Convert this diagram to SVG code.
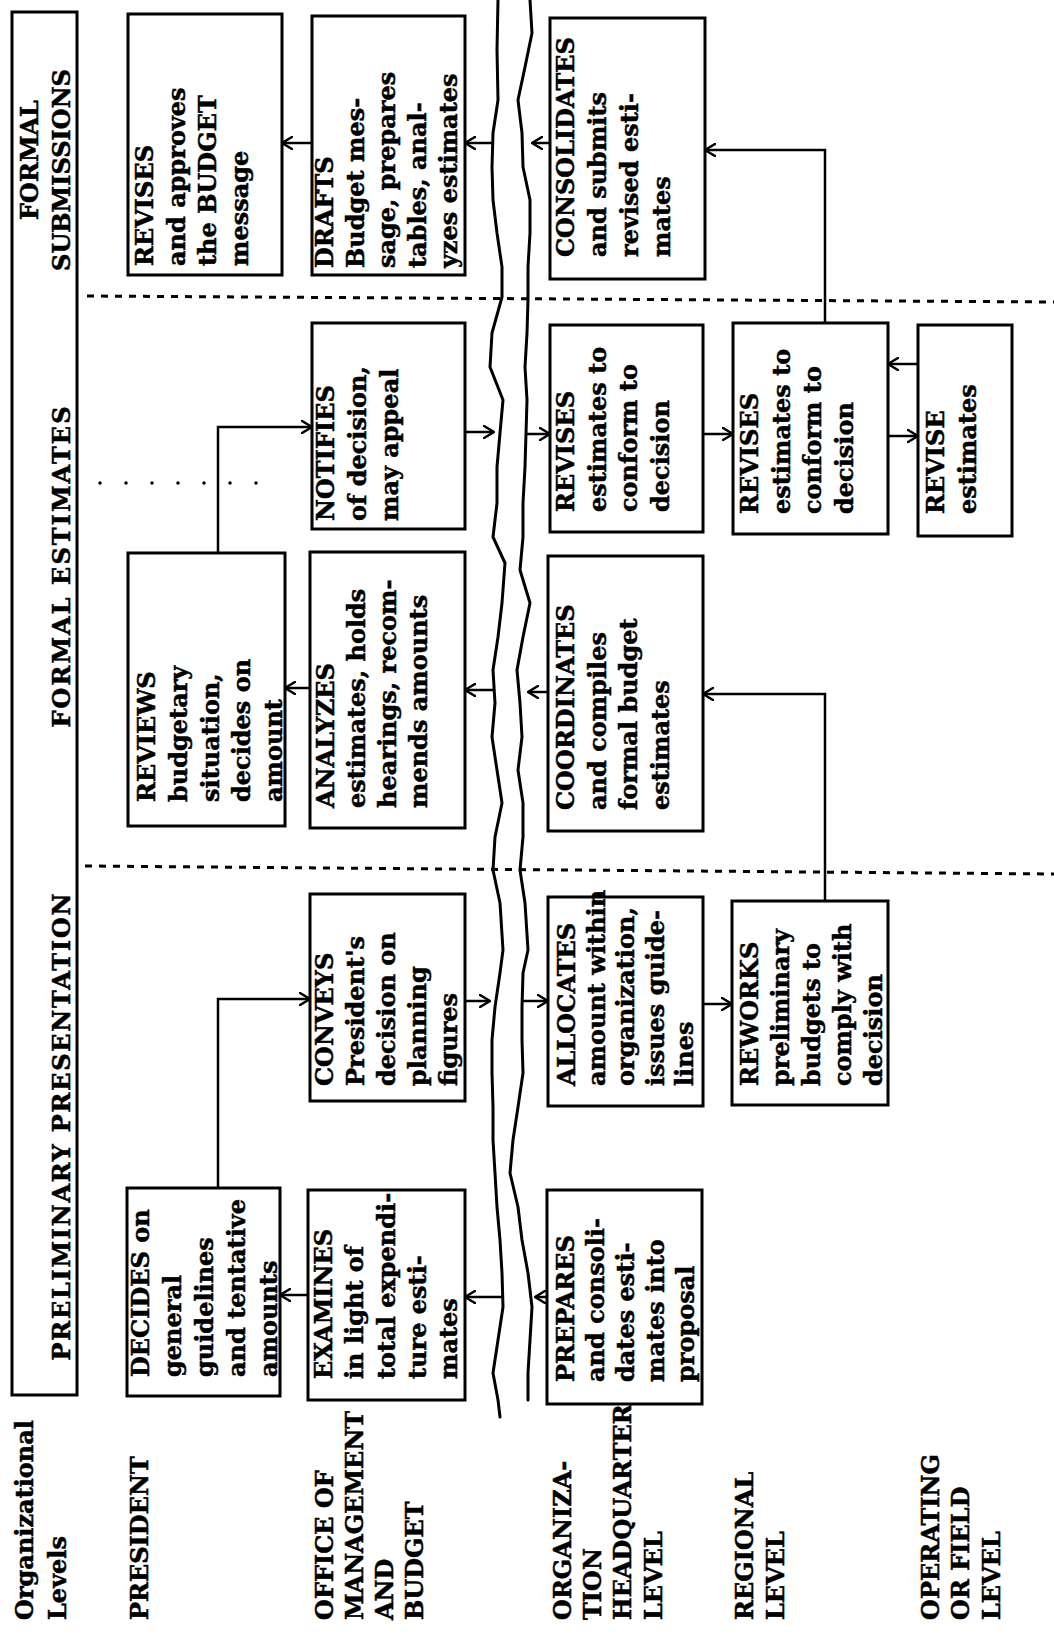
<svg xmlns="http://www.w3.org/2000/svg" width="1054" height="1638" viewBox="0 0 1054 1638">
  <defs>
    <style>
      .box { fill: none; stroke: #000; stroke-width: 3; }
      .t { font-family: "DejaVu Serif", "Liberation Serif", serif; font-weight: bold; font-size: 24px; fill: #000; stroke: #000; stroke-width: 0.5; }
      .conn { fill: none; stroke: #000; stroke-width: 2.5; marker-end: url(#arr); }
      .wave { fill: none; stroke: #000; stroke-width: 3; stroke-linejoin: round; stroke-linecap: round; }
      .dash { stroke: #000; stroke-width: 3; stroke-dasharray: 7 7; }
      .dots { stroke: #000; stroke-width: 3.5; stroke-linecap: round; stroke-dasharray: 0 26; }
    </style>
    <marker id="arr" viewBox="0 0 12 14" refX="11" refY="7" markerWidth="12" markerHeight="14" markerUnits="userSpaceOnUse" orient="auto">
      <path d="M1,1 L11,7 L1,13" fill="none" stroke="#000" stroke-width="2.5" stroke-linecap="round" stroke-linejoin="round"/>
    </marker>
  </defs>
  <rect width="1054" height="1638" fill="#fff"/>

  <!-- phase header band -->
  <g id="header">
    <rect class="box" x="12" y="12" width="65" height="1383"/>
    <text class="t" transform="rotate(-90 38 160)" x="38" y="160" text-anchor="middle">FORMAL</text>
    <text class="t" transform="rotate(-90 70 170)" x="70" y="170" text-anchor="middle">SUBMISSIONS</text>
    <text class="t" transform="rotate(-90 70 567)" x="70" y="567" text-anchor="middle" textLength="321" lengthAdjust="spacing">FORMAL ESTIMATES</text>
    <text class="t" transform="rotate(-90 70 1127)" x="70" y="1127" text-anchor="middle" textLength="467" lengthAdjust="spacing">PRELIMINARY PRESENTATION</text>
  </g>

  <!-- phase dividers and the break between executive and agency levels -->
  <g id="dividers">
    <line class="dash" x1="87" y1="296" x2="1054" y2="302"/>
    <line class="dash" x1="85" y1="866" x2="1054" y2="874"/>
    <line class="dots" x1="100" y1="483" x2="262" y2="483"/>
    <polyline class="wave" points="498,0 497,50 498,100 493,133 492,167 493,200 497,233 502,267 502,297 492,333 490,367 503,400 500,433 497,467 497,503 493,537 505,563 502,603 498,637 493,670 495,703 492,737 497,770 502,803 495,837 493,870 500,903 503,950 500,973 495,1007 492,1040 492,1073 493,1107 493,1140 495,1173 497,1207 500,1240 502,1273 503,1307 498,1340 493,1373 498,1400 500,1417"/>
    <polyline class="wave" points="530,0 532,33 525,67 518,100 522,133 523,167 530,200 530,233 528,267 528,300 527,333 525,367 527,400 525,467 523,503 523,537 520,570 530,603 523,637 517,670 520,703 522,737 518,770 523,803 523,837 520,870 525,903 528,950 523,973 522,1007 522,1040 523,1073 518,1107 513,1140 510,1173 518,1207 522,1240 528,1273 532,1307 530,1340 528,1373 528,1400"/>
  </g>

  <!-- organizational level labels -->
  <g id="levels">
    <text class="t" transform="rotate(-90 33 1620)" x="33" y="1620"><tspan x="33">Organizational</tspan><tspan x="33" dy="33">Levels</tspan></text>
    <text class="t" transform="rotate(-90 148 1620)" x="148" y="1620">PRESIDENT</text>
    <text class="t" transform="rotate(-90 333 1620)" x="333" y="1620"><tspan x="333">OFFICE OF</tspan><tspan x="333" dy="30">MANAGEMENT</tspan><tspan x="333" dy="30">AND</tspan><tspan x="333" dy="30">BUDGET</tspan></text>
    <text class="t" transform="rotate(-90 571 1620)" x="571" y="1620"><tspan x="571">ORGANIZA-</tspan><tspan x="571" dy="30">TION</tspan><tspan x="571" dy="30">HEADQUARTER</tspan><tspan x="571" dy="31">LEVEL</tspan></text>
    <text class="t" transform="rotate(-90 753 1620)" x="753" y="1620"><tspan x="753">REGIONAL</tspan><tspan x="753" dy="31">LEVEL</tspan></text>
    <text class="t" transform="rotate(-90 939 1620)" x="939" y="1620"><tspan x="939">OPERATING</tspan><tspan x="939" dy="30">OR FIELD</tspan><tspan x="939" dy="31">LEVEL</tspan></text>
  </g>

  <!-- President -->
  <g id="pres-revises">
    <rect class="box" x="128" y="14" width="154" height="261"/>
    <text class="t" transform="rotate(-90 153 266)" x="153" y="266"><tspan x="153">REVISES</tspan><tspan x="153" dy="31.5">and approves</tspan><tspan x="153" dy="31.5">the BUDGET</tspan><tspan x="153" dy="31.5">message</tspan></text>
  </g>
  <g id="pres-reviews">
    <rect class="box" x="128" y="553" width="157" height="273"/>
    <text class="t" transform="rotate(-90 155 802)" x="155" y="802"><tspan x="155">REVIEWS</tspan><tspan x="155" dy="31.75">budgetary</tspan><tspan x="155" dy="31.75">situation,</tspan><tspan x="155" dy="31.75">decides on</tspan><tspan x="155" dy="31.75">amount</tspan></text>
  </g>
  <g id="pres-decides">
    <rect class="box" x="127" y="1188" width="153" height="208"/>
    <text class="t" transform="rotate(-90 149 1377)" x="149" y="1377"><tspan x="149">DECIDES on</tspan><tspan x="149" dy="32">general</tspan><tspan x="149" dy="32">guidelines</tspan><tspan x="149" dy="32">and tentative</tspan><tspan x="149" dy="32">amounts</tspan></text>
  </g>

  <!-- Office of Management and Budget -->
  <g id="omb-drafts">
    <rect class="box" x="312" y="16" width="153" height="259"/>
    <text class="t" transform="rotate(-90 333 268)" x="333" y="268"><tspan x="333">DRAFTS</tspan><tspan x="333" dy="31">Budget mes-</tspan><tspan x="333" dy="31">sage, prepares</tspan><tspan x="333" dy="31">tables, anal-</tspan><tspan x="333" dy="31">yzes estimates</tspan></text>
  </g>
  <g id="omb-notifies">
    <rect class="box" x="312" y="323" width="153" height="206"/>
    <text class="t" transform="rotate(-90 334 521)" x="334" y="521"><tspan x="334">NOTIFIES</tspan><tspan x="334" dy="32">of decision,</tspan><tspan x="334" dy="32">may appeal</tspan></text>
  </g>
  <g id="omb-analyzes">
    <rect class="box" x="310" y="552" width="155" height="276"/>
    <text class="t" transform="rotate(-90 334 808)" x="334" y="808"><tspan x="334">ANALYZES</tspan><tspan x="334" dy="31">estimates, holds</tspan><tspan x="334" dy="31">hearings, recom-</tspan><tspan x="334" dy="31">mends amounts</tspan></text>
  </g>
  <g id="omb-conveys">
    <rect class="box" x="310" y="894" width="155" height="207"/>
    <text class="t" transform="rotate(-90 333 1086)" x="333" y="1086"><tspan x="333">CONVEYS</tspan><tspan x="333" dy="31">President's</tspan><tspan x="333" dy="31">decision on</tspan><tspan x="333" dy="31">planning</tspan><tspan x="333" dy="31">figures</tspan></text>
  </g>
  <g id="omb-examines">
    <rect class="box" x="308" y="1190" width="157" height="210"/>
    <text class="t" transform="rotate(-90 332 1379)" x="332" y="1379"><tspan x="332">EXAMINES</tspan><tspan x="332" dy="31.25">in light of</tspan><tspan x="332" dy="31.25">total expendi-</tspan><tspan x="332" dy="31.25">ture esti-</tspan><tspan x="332" dy="31.25">mates</tspan></text>
  </g>

  <!-- Organization headquarter level -->
  <g id="hq-consolidates">
    <rect class="box" x="550" y="18" width="155" height="261"/>
    <text class="t" transform="rotate(-90 574 257)" x="574" y="257"><tspan x="574">CONSOLIDATES</tspan><tspan x="574" dy="32">and submits</tspan><tspan x="574" dy="32">revised esti-</tspan><tspan x="574" dy="32">mates</tspan></text>
  </g>
  <g id="hq-revises">
    <rect class="box" x="550" y="325" width="153" height="207"/>
    <text class="t" transform="rotate(-90 574 512)" x="574" y="512"><tspan x="574">REVISES</tspan><tspan x="574" dy="31.5">estimates to</tspan><tspan x="574" dy="31.5">conform to</tspan><tspan x="574" dy="31.5">decision</tspan></text>
  </g>
  <g id="hq-coordinates">
    <rect class="box" x="548" y="556" width="155" height="275"/>
    <text class="t" transform="rotate(-90 574 810)" x="574" y="810"><tspan x="574">COORDINATES</tspan><tspan x="574" dy="31.5">and compiles</tspan><tspan x="574" dy="31.5">formal budget</tspan><tspan x="574" dy="31.5">estimates</tspan></text>
  </g>
  <g id="hq-allocates">
    <rect class="box" x="548" y="897" width="155" height="209"/>
    <text class="t" transform="rotate(-90 575 1086)" x="575" y="1086"><tspan x="575">ALLOCATES</tspan><tspan x="575" dy="29.5">amount within</tspan><tspan x="575" dy="29.5">organization,</tspan><tspan x="575" dy="29.5">issues guide-</tspan><tspan x="575" dy="29.5">lines</tspan></text>
  </g>
  <g id="hq-prepares">
    <rect class="box" x="547" y="1190" width="155" height="214"/>
    <text class="t" transform="rotate(-90 574 1382)" x="574" y="1382"><tspan x="574">PREPARES</tspan><tspan x="574" dy="30">and consoli-</tspan><tspan x="574" dy="30">dates esti-</tspan><tspan x="574" dy="30">mates into</tspan><tspan x="574" dy="30">proposal</tspan></text>
  </g>

  <!-- Regional level -->
  <g id="reg-revises">
    <rect class="box" x="733" y="323" width="155" height="211"/>
    <text class="t" transform="rotate(-90 758 514)" x="758" y="514"><tspan x="758">REVISES</tspan><tspan x="758" dy="31.5">estimates to</tspan><tspan x="758" dy="31.5">conform to</tspan><tspan x="758" dy="31.5">decision</tspan></text>
  </g>
  <g id="reg-reworks">
    <rect class="box" x="732" y="901" width="156" height="204"/>
    <text class="t" transform="rotate(-90 758 1086)" x="758" y="1086"><tspan x="758">REWORKS</tspan><tspan x="758" dy="31">preliminary</tspan><tspan x="758" dy="31">budgets to</tspan><tspan x="758" dy="31">comply with</tspan><tspan x="758" dy="31">decision</tspan></text>
  </g>

  <!-- Operating or field level -->
  <g id="field-revise">
    <rect class="box" x="918" y="325" width="94" height="211"/>
    <text class="t" transform="rotate(-90 944 514)" x="944" y="514"><tspan x="944">REVISE</tspan><tspan x="944" dy="32">estimates</tspan></text>
  </g>

  <!-- flow connectors -->
  <g id="connectors">
    <line class="conn" x1="312" y1="143" x2="282" y2="143"/>
    <line class="conn" x1="493" y1="143" x2="465" y2="143"/>
    <line class="conn" x1="550" y1="143" x2="532" y2="143"/>
    <path class="conn" d="M825,323 V150 H705"/>

    <path class="conn" d="M218,553 V427 H312"/>
    <line class="conn" x1="465" y1="432" x2="494" y2="432"/>
    <line class="conn" x1="526" y1="434" x2="550" y2="434"/>
    <line class="conn" x1="703" y1="434" x2="733" y2="434"/>
    <line class="conn" x1="918" y1="364" x2="888" y2="364"/>
    <line class="conn" x1="888" y1="436" x2="918" y2="436"/>

    <line class="conn" x1="310" y1="688" x2="285" y2="688"/>
    <line class="conn" x1="494" y1="690" x2="465" y2="690"/>
    <line class="conn" x1="548" y1="692" x2="528" y2="692"/>
    <path class="conn" d="M825,901 V694 H703"/>

    <path class="conn" d="M218,1188 V999 H310"/>
    <line class="conn" x1="465" y1="1001" x2="490" y2="1001"/>
    <line class="conn" x1="522" y1="1001" x2="548" y2="1001"/>
    <line class="conn" x1="703" y1="1004" x2="732" y2="1004"/>

    <line class="conn" x1="308" y1="1295" x2="280" y2="1295"/>
    <line class="conn" x1="503" y1="1297" x2="465" y2="1297"/>
    <line class="conn" x1="547" y1="1297" x2="535" y2="1297"/>
  </g>
</svg>
